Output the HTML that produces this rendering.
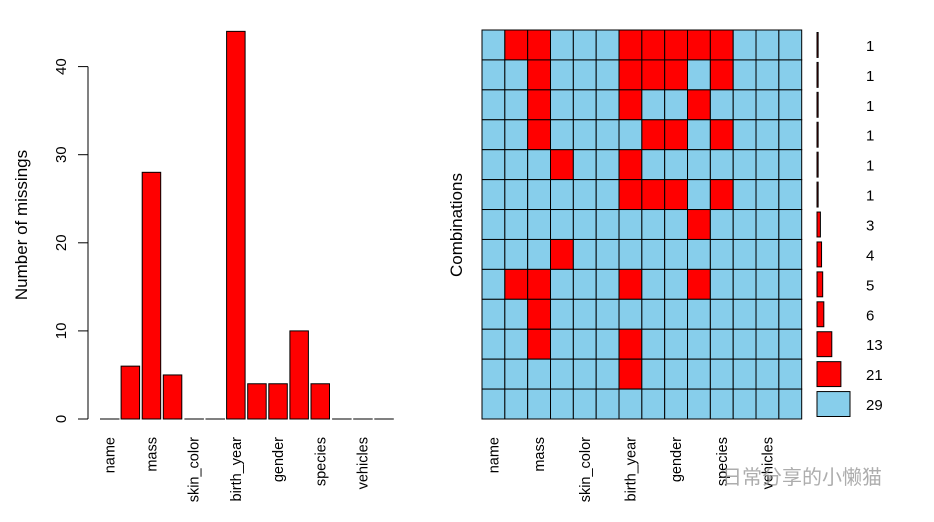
<!DOCTYPE html>
<html><head><meta charset="utf-8"><style>
html,body{margin:0;padding:0;background:#fff}
svg text{font-family:"Liberation Sans",Arial,sans-serif}
</style></head><body>
<svg id="c" width="934" height="517" xmlns="http://www.w3.org/2000/svg"></svg>
<script>
const variables=["name","height","mass","hair_color","skin_color","eye_color","birth_year","sex","gender","homeworld","species","films","vehicles","starships"];
const missingCounts=[0,6,28,5,0,0,44,4,4,10,4,0,0,0];
const yTicks=[0,10,20,30,40];
const comboPatterns=[
"01100011111000","00100011101000","00100010010000","00100001101000",
"00010010000000","00000011101000","00000000010000","00010000000000",
"01100010010000","00100000000000","00100010000000","00000010000000","00000000000000"];
const comboCounts=[1,1,1,1,1,1,3,4,5,6,13,21,29];

const NS="http://www.w3.org/2000/svg";
const svg=document.getElementById('c');
function el(t,a,txt){const e=document.createElementNS(NS,t);for(const k in a)e.setAttribute(k,a[k]);if(txt!==undefined)e.textContent=txt;svg.appendChild(e);return e;}

// Left bar chart
const y0=419, pxPerUnit=8.81;
const yS=v=>y0-v*pxPerUnit;
const bx=i=>100+21.1*i, bw=18.5;
let ax=el('line',{x1:88,y1:yS(0),x2:88,y2:yS(40),stroke:'#000'});


yTicks.forEach(t=>{
  let l=el('line',{x1:78,y1:yS(t),x2:88,y2:yS(t),stroke:'#000'});
  
  
  let tx=el('text',{x:66,y:yS(t),'font-size':15,'text-anchor':'middle',transform:`rotate(-90 66 ${yS(t)})`},t);
  
  
});
let yt=el('text',{x:27,y:225,'font-size':17,'text-anchor':'middle',transform:'rotate(-90 27 225)'},'Number of missings');


missingCounts.forEach((v,i)=>{
  let r;
  if(v>0){
    r=el('rect',{x:bx(i),y:yS(v),width:bw,height:v*pxPerUnit,fill:'#ff0000',stroke:'#000','stroke-width':1});
  } else {
    r=el('line',{x1:bx(i),y1:y0,x2:bx(i)+bw+1,y2:y0,stroke:'#000','stroke-width':1});
  }
  
  
  if(i%2===0){
    const cx=bx(i)+bw/2+5;
    let t=el('text',{x:cx,y:437,'font-size':14.5,'text-anchor':'end',transform:`rotate(-90 ${cx} 437)`},variables[i]);
    
    
  }
});

// Right combinations grid
const gx=482, gy=30, cw=(801.7-482)/14, rh=(419-30)/13;
comboPatterns.forEach((p,r)=>{
  for(let c=0;c<14;c++){
    let cell=el('rect',{x:gx+c*cw,y:gy+r*rh,width:cw,height:rh,fill:p[c]==='1'?'#ff0000':'#87ceeb',stroke:'#000','stroke-width':1});
    
    
  }
});
variables.forEach((v,i)=>{
  if(i%2===0){
    const cx=gx+i*cw+cw/2+5;
    let t=el('text',{x:cx,y:437,'font-size':14.5,'text-anchor':'end',transform:`rotate(-90 ${cx} 437)`},v);
    
    
  }
});
let ct=el('text',{x:462,y:225,'font-size':17,'text-anchor':'middle',transform:'rotate(-90 462 225)'},'Combinations');


const maxC=Math.max(...comboCounts);
comboCounts.forEach((n,r)=>{
  const w=n*33/maxC;
  const yy=gy+r*rh+2.5;
  let b=el('rect',{x:817,y:yy,width:Math.max(w,0.3),height:rh-5,fill:r===comboCounts.length-1?'#87ceeb':'#ff0000',stroke:'#000','stroke-width':1});
  
  
  let t=el('text',{x:866,y:gy+r*rh+rh/2+6,'font-size':15},n);
  
  
});
let wm=el('text',{x:722,y:484,'font-size':20,fill:'#999','fill-opacity':0.8,'font-family':'"Liberation Sans","Noto Sans CJK SC",sans-serif'},'日常分享的小懒猫');


</script>
</body></html>
